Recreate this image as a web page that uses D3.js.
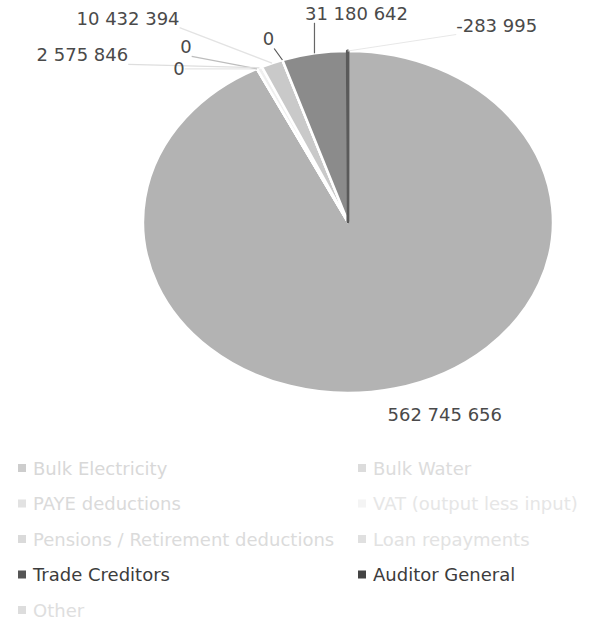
<!DOCTYPE html>
<html>
<head>
<meta charset="utf-8">
<script src="https://cdn.jsdelivr.net/npm/d3@7"></script>
<style>
  html, body { margin: 0; padding: 0; background: #ffffff; }
  svg { display: block; }
  text { font-family: "DejaVu Sans", sans-serif; }
</style>
</head>
<body>
<div id="chart"></div>
<script>
// Creditors breakdown, drawn as a pie (Excel order: clockwise from 12 o'clock)
const categories = [
  "Bulk Electricity",
  "Bulk Water",
  "PAYE deductions",
  "VAT (output less input)",
  "Pensions / Retirement deductions",
  "Loan repayments",
  "Trade Creditors",
  "Auditor General",
  "Other"
];
const values = [562745656, 0, 0, 2575846, 10432394, 0, 31180642, -283995, null];

// Slice fills
const sliceColors = ["#b3b3b3", "#d2d2d2", "#e2e2e2", "#efefef", "#c9c9c9", "#dcdcdc", "#8b8b8b", "#5a5a5a", "#d5d5d5"];
// Legend ink (most entries print very faint)
const legendMarkColors = ["#cdcdcd", "#dcdcdc", "#e2e2e2", "#f4f4f4", "#dadada", "#e0e0e0", "#555555", "#444444", "#dddddd"];
const legendTextColors = ["#d8d8d8", "#dcdcdc", "#dadada", "#e6e6e6", "#dbdbdb", "#e2e2e2", "#3c3c3c", "#3c3c3c", "#dedede"];
// Data label offsets from the slice's outer edge point (px), and leader-line ink
const labelOffsets = [[50, 26], [-78, 0], [-71, -22], [-177, -13], [-144, -45], [-14, -21], [42, -40], [149, -26], [0, 0]];
const leaderColors = [null, "#e6e6e6", "#bdbdbd", "#dedede", "#e3e3e3", "#555555", "#666666", "#e8e8e8", null];

const W = 589, H = 620;
const cx = 348, cy = 222, rx = 205, ry = 171;

const svg = d3.select("#chart").append("svg")
  .attr("width", W).attr("height", H)
  .attr("viewBox", `0 0 ${W} ${H}`);

const rows = categories.map((name, i) => ({
  name, value: values[i], i
}));
const drawn = rows.filter(d => d.value !== null);

// Excel plots the magnitude of negative values
const pie = d3.pie().sort(null).value(d => Math.abs(d.value))
  .startAngle(0).endAngle(2 * Math.PI);
const arcs = pie(drawn);

const arc = d3.arc().innerRadius(0).outerRadius(ry);

const pieG = svg.append("g")
  .attr("transform", `translate(${cx},${cy}) scale(${rx / ry},1)`);

pieG.selectAll("path.slice")
  .data(arcs)
  .join("path")
  .attr("class", "slice")
  .attr("d", arc)
  .attr("fill", d => sliceColors[d.data.i])
  .attr("stroke", d => d.data.name === "Auditor General" ? sliceColors[d.data.i] : "#ffffff")
  .attr("stroke-width", d => d.data.name === "Auditor General" ? 3 : 2.5)
  .attr("stroke-linejoin", "round")
  .attr("vector-effect", "non-scaling-stroke");

// Data labels
const fmt = d3.formatLocale({
  decimal: ",", thousands: " ", grouping: [3], currency: ["", ""], minus: "-"
}).format(",d");

const edgePoint = a => {
  const m = (a.startAngle + a.endAngle) / 2;
  return [cx + rx * Math.sin(m), cy - ry * Math.cos(m)];
};

const labelG = svg.append("g");
arcs.forEach(a => {
  const i = a.data.i;
  const [ex, ey] = edgePoint(a);
  const [ox, oy] = labelOffsets[i];
  const lx = ex + ox, ly = ey + oy;
  const t = labelG.append("text")
    .attr("x", lx).attr("y", ly)
    .attr("text-anchor", "middle")
    .attr("dominant-baseline", "central")
    .attr("font-size", 18)
    .attr("fill", "#4a4a4a")
    .text(fmt(a.data.value));
  if (leaderColors[i]) {
    const b = t.node().getBBox();
    const px = Math.max(b.x, Math.min(b.x + b.width, ex));
    const py = Math.max(b.y + 2, Math.min(b.y + b.height - 1, ey));
    labelG.insert("line", "text")
      .attr("x1", ex).attr("y1", ey)
      .attr("x2", px).attr("y2", py)
      .attr("stroke", leaderColors[i])
      .attr("stroke-width", 1.2);
  }
});

// Legend: two columns
const legendX = [18, 358], legendY0 = 468, legendStep = 35.5, mark = 8;
const legend = svg.append("g");
rows.forEach((d, k) => {
  const col = k % 2, row = Math.floor(k / 2);
  const x = legendX[col], y = legendY0 + row * legendStep;
  legend.append("rect")
    .attr("x", x).attr("y", y - mark / 2)
    .attr("width", mark).attr("height", mark)
    .attr("fill", legendMarkColors[d.i]);
  legend.append("text")
    .attr("x", x + mark + 7).attr("y", y)
    .attr("dominant-baseline", "central")
    .attr("font-size", 18)
    .attr("fill", legendTextColors[d.i])
    .text(d.name);
});
</script>
</body>
</html>
